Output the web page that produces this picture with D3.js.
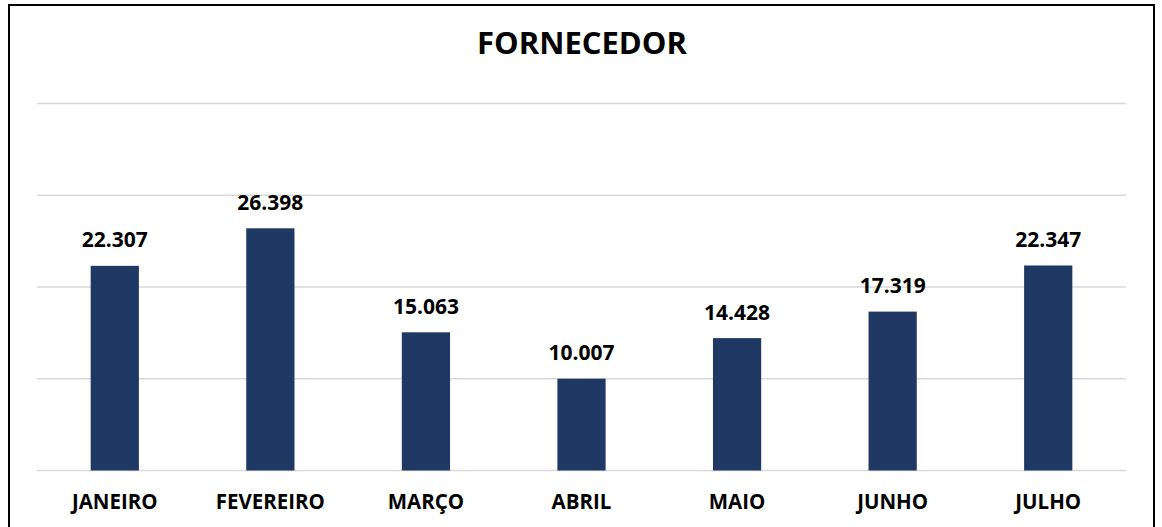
<!DOCTYPE html>
<html>
<head>
    <meta charset="utf-8">
    <script src="https://d3js.org/d3.v7.min.js"></script>
    <style>
        body { margin: 0; background: #fff; }
        text { font-family: "Open Sans", sans-serif; font-weight: bold; fill: #000; }
    </style>
</head>
<body>
    <div id="chart"></div>
    <script>
        // Data
        const meses = ['JANEIRO', 'FEVEREIRO', 'MARÇO', 'ABRIL', 'MAIO', 'JUNHO', 'JULHO'];
        const valores = [22.307, 26.398, 15.063, 10.007, 14.428, 17.319, 22.347];
        const rotulos = ['22.307', '26.398', '15.063', '10.007', '14.428', '17.319', '22.347'];
        const gradeValores = [0, 10, 20, 30, 40];
        const titulo = 'FORNECEDOR';

        const chartWidth = 1162;
        const chartHeight = 527;
        const plotLeft = 37, plotRight = 1126, plotTop = 103.5, plotBottom = 470.5;

        let svg = d3.select('#chart').append('svg')
                    .attr('width', chartWidth)
                    .attr('height', chartHeight);

        // Border
        svg.append('rect')
           .attr('x', 9)
           .attr('y', 5)
           .attr('width', 1145)
           .attr('height', 560)
           .attr('fill', 'none')
           .attr('stroke', '#000')
           .attr('stroke-width', 2);

        // Scales
        const xScale = d3.scaleBand()
                         .domain(meses)
                         .range([plotLeft, plotRight])
                         .paddingInner(0.69)
                         .paddingOuter(0.345);

        const yScale = d3.scaleLinear()
                         .domain([0, 40])
                         .range([plotBottom, plotTop]);

        // Grid Lines
        svg.append('g')
           .selectAll('line')
           .data(gradeValores)
           .join('line')
           .attr('x1', plotLeft)
           .attr('x2', plotRight)
           .attr('y1', (d) => yScale(d))
           .attr('y2', (d) => yScale(d))
           .attr('stroke', '#d9d9d9')
           .attr('stroke-width', 1.5);

        // Bars
        svg.append('g')
           .selectAll('rect')
           .data(valores)
           .join('rect')
           .attr('x', (d, i) => xScale(meses[i]))
           .attr('y', (d) => yScale(d))
           .attr('width', xScale.bandwidth())
           .attr('height', (d) => yScale(0) - yScale(d))
           .attr('fill', '#203864');

        // Value Labels
        svg.append('g')
           .selectAll('text')
           .data(valores)
           .join('text')
           .attr('x', (d, i) => xScale(meses[i]) + xScale.bandwidth() / 2)
           .attr('y', (d) => yScale(d) - 18.5)
           .attr('text-anchor', 'middle')
           .style('font-size', '21px')
           .text((d, i) => rotulos[i]);

        // Category Labels
        svg.append('g')
           .selectAll('text')
           .data(meses)
           .join('text')
           .attr('x', (d) => xScale(d) + xScale.bandwidth() / 2)
           .attr('y', 509)
           .attr('text-anchor', 'middle')
           .style('font-size', '20.5px')
           .text((d) => d);

        // Title
        svg.append('text')
           .attr('x', 582)
           .attr('y', 54)
           .attr('text-anchor', 'middle')
           .style('font-size', '31px')
           .text(titulo);
    </script>
</body>
</html>
